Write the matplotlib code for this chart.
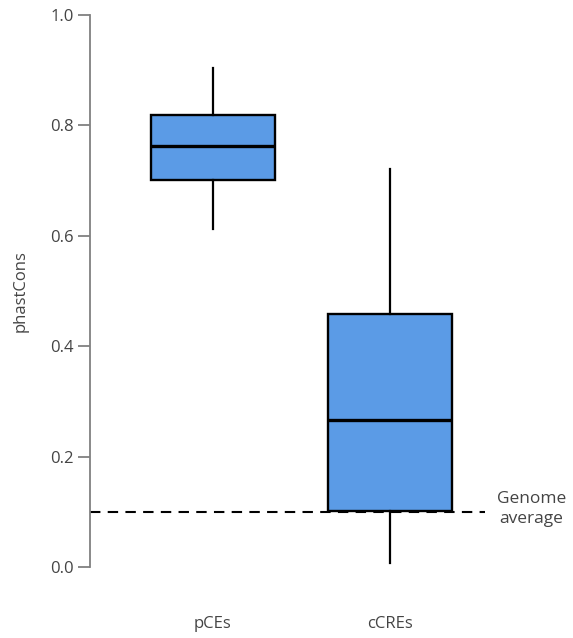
import matplotlib
matplotlib.use("Agg")
import matplotlib.pyplot as plt

plt.rcParams['font.family'] = ['Open Sans', 'DejaVu Sans']

groups = ["pCEs", "cCREs"]
whislo = [0.612, 0.007]
q1 = [0.701, 0.101]
med = [0.763, 0.266]
q3 = [0.818, 0.458]
whishi = [0.904, 0.721]
genome_avg = 0.10

BOX = "#5b9be6"
TXT = "#444444"

fig = plt.figure(figsize=(5.73, 6.38), dpi=100)
ax = fig.add_axes([90 / 573, 71 / 638, (485 - 90) / 573, 552 / 638])

stats = [dict(label=g, whislo=a, q1=b, med=c, q3=d, whishi=e, fliers=[])
         for g, a, b, c, d, e in zip(groups, whislo, q1, med, q3, whishi)]
ax.bxp(stats, positions=[1, 2], widths=0.70, showcaps=False, patch_artist=True,
       boxprops=dict(facecolor=BOX, edgecolor="black", linewidth=1.7),
       medianprops=dict(color="black", linewidth=2.4),
       whiskerprops=dict(color="black", linewidth=1.6))

ax.axhline(genome_avg, color="black", lw=1.5, ls=(0, (5, 3.5)), zorder=0.5)
ax.text(2.80, 0.105, "Genome\naverage", ha="center", va="center",
        fontsize=12.5, color=TXT, clip_on=False, linespacing=1.3)

ax.set_xlim(0.305, 2.537)
ax.set_ylim(0, 1.0)
ax.set_yticks([0.0, 0.2, 0.4, 0.6, 0.8, 1.0])
ax.set_yticklabels(["0.0", "0.2", "0.4", "0.6", "0.8", "1.0"])
ax.set_xticks([1, 2])
ax.set_xticklabels(groups)
ax.tick_params(axis="x", length=0, pad=35, labelsize=12, labelcolor=TXT)
ax.tick_params(axis="y", length=8.5, width=1.3, color="#808080", pad=3,
               labelsize=12, labelcolor=TXT)
for s in ["top", "right", "bottom"]:
    ax.spines[s].set_visible(False)
ax.spines["left"].set_color("#808080")
ax.spines["left"].set_linewidth(1.3)
ax.spines["left"].set_bounds(0, 1.0)
ax.set_ylabel("phastCons", fontsize=12, color=TXT, labelpad=16)

fig.savefig("out.png", dpi=100)
